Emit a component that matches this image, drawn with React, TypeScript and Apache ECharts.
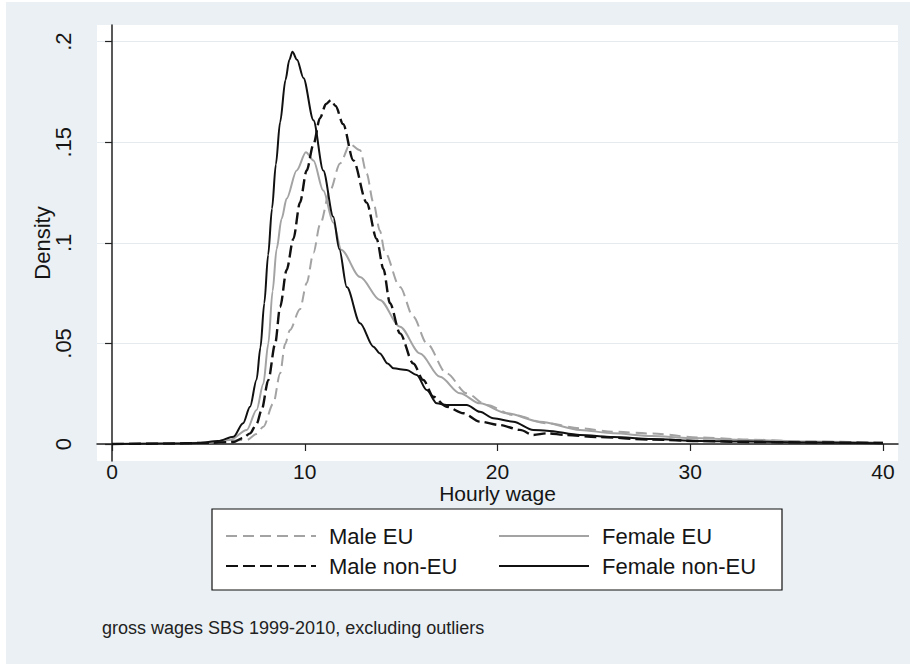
import React, { useEffect, useRef } from 'react';
import * as echarts from 'echarts';

// Kernel density estimates of hourly gross wages (wage, density)
const maleEU: number[][] = [
  [0, 0], [3, 0.0002], [5, 0.0005], [6.99, 0.002], [7.5, 0.005], [7.85, 0.0086],
  [8.37, 0.0202], [8.72, 0.0351], [8.98, 0.0497], [9.23, 0.0567], [9.75, 0.067],
  [10.1, 0.08], [10.45, 0.095], [10.79, 0.109], [11.31, 0.126], [11.83, 0.1395],
  [12.35, 0.149], [12.87, 0.146], [13.21, 0.1345], [13.56, 0.12], [13.9, 0.106],
  [14.15, 0.0955], [14.94, 0.078], [15.63, 0.0633], [16.33, 0.05], [17.36, 0.0351],
  [18.4, 0.0252], [19.44, 0.0194], [20.82, 0.0144], [22.55, 0.0103], [24.28, 0.0078],
  [26, 0.0061], [28, 0.0052], [30.5, 0.0032], [33, 0.0022], [36, 0.0013], [40, 0.0006],
];

const femaleEU: number[][] = [
  [0, 0], [3, 0.0002], [5, 0.0008], [6.12, 0.002], [6.99, 0.007], [7.5, 0.0169],
  [7.85, 0.03], [8.11, 0.05], [8.33, 0.076], [8.54, 0.097], [8.8, 0.112],
  [9.06, 0.122], [9.58, 0.136], [10.06, 0.145], [10.45, 0.141], [10.96, 0.126],
  [11.48, 0.11], [11.9, 0.0964], [12.87, 0.083], [13.9, 0.0716], [14.94, 0.0583],
  [15.98, 0.045], [17.02, 0.0334], [18.05, 0.0252], [19.09, 0.0202], [20.48, 0.0153],
  [22.2, 0.0111], [24.28, 0.007], [26, 0.0053], [28, 0.004], [30, 0.003], [33, 0.002],
  [36, 0.0012], [40, 0.0006],
];

const maleNonEU: number[][] = [
  [0, 0], [3, 0.0002], [5, 0.0006], [6.29, 0.001], [6.8, 0.003], [7.16, 0.0053],
  [7.5, 0.01], [7.76, 0.0169], [8.11, 0.0318], [8.46, 0.0497], [8.72, 0.068],
  [9.06, 0.0865], [9.41, 0.102], [9.75, 0.12], [10.1, 0.136], [10.45, 0.149],
  [10.79, 0.162], [11.1, 0.169], [11.36, 0.171], [11.6, 0.168], [11.99, 0.159],
  [12.52, 0.141], [13.21, 0.12], [13.73, 0.102], [14.08, 0.087], [14.42, 0.07],
  [14.94, 0.055], [15.63, 0.04], [16.15, 0.0318], [16.67, 0.0235], [17.36, 0.0185],
  [18.23, 0.0153], [19.09, 0.0111], [20.13, 0.0094], [21.17, 0.007], [21.86, 0.0045],
  [22.55, 0.0053], [23.59, 0.0045], [25.1, 0.0035], [28, 0.0022], [30.5, 0.0015],
  [33, 0.001], [36, 0.0008], [40, 0.0005],
];

const femaleNonEU: number[][] = [
  [0, 0], [3, 0.0002], [4.5, 0.0005], [5.5, 0.0015], [6.3, 0.0036], [6.8, 0.0103],
  [7.16, 0.0185], [7.5, 0.032], [7.7, 0.048], [7.9, 0.07], [8.1, 0.094],
  [8.3, 0.117], [8.5, 0.139], [8.72, 0.16], [9.0, 0.181], [9.2, 0.191], [9.36, 0.195],
  [9.6, 0.191], [9.93, 0.182], [10.45, 0.161], [10.96, 0.136], [11.48, 0.113],
  [11.79, 0.097], [12.18, 0.078], [12.87, 0.06], [13.56, 0.0484], [13.9, 0.045],
  [14.3, 0.04], [14.6, 0.0376], [15.29, 0.0368], [15.81, 0.0343], [16.33, 0.0268],
  [16.85, 0.0202], [17.36, 0.0194], [18.4, 0.0194], [19.09, 0.016], [19.78, 0.0128],
  [20.82, 0.0111], [21.86, 0.007], [22.55, 0.0066], [24.28, 0.0045], [26, 0.0035],
  [28, 0.0025], [30.5, 0.0015], [33, 0.0012], [36, 0.0008], [40, 0.0004],
];

const seriesNames = ['Male EU', 'Female EU', 'Male non-EU', 'Female non-EU'];
const legendColumn1 = [seriesNames[0], seriesNames[2]];
const legendColumn2 = [seriesNames[1], seriesNames[3]];
const wageTicks = [0, 10, 20, 30, 40];
const densityTicks = [0, 0.05, 0.1, 0.15, 0.2];
const xTitle = 'Hourly wage';
const yTitle = 'Density';
const note = 'gross wages SBS 1999-2010, excluding outliers';

const FONT = '"Liberation Sans", Arial, Helvetica, sans-serif';
const GRAY = '#a3a3a3';
const BLACK = '#111111';
const TXT = '#151515';

export default function App() {
  const ref = useRef<HTMLDivElement>(null);
  useEffect(() => {
    if (!ref.current) return;
    const chart = echarts.init(ref.current, null, { renderer: 'svg' });
    const fmtDensity = (v: number) => (v === 0 ? '0' : String(v).replace(/^0/, ''));
    const mk = (name: string, data: number[][], color: string, type: any, width: number) => ({
      name,
      type: 'line',
      data,
      symbol: 'none',
      smooth: 0.3,
      smoothMonotone: 'x',
      lineStyle: { color, type, width },
      itemStyle: { color },
    });
    const legendBase = {
      orient: 'vertical',
      top: 525,
      itemWidth: 90,
      itemHeight: 14,
      itemGap: 8,
      padding: 0,
      itemStyle: { color: 'rgba(0,0,0,0)', borderColor: 'rgba(0,0,0,0)', borderWidth: 0 },
      textStyle: { fontSize: 22, color: TXT, fontFamily: FONT, padding: [0, 0, 0, 8] },
    };
    chart.setOption({
      animation: false,
      backgroundColor: '#ffffff',
      textStyle: { fontFamily: FONT },
      graphic: [
        {
          type: 'rect',
          z: -10,
          silent: true,
          shape: { x: 6, y: 2, width: 910, height: 670 },
          style: { fill: '#eaf0f3' },
        },
        {
          type: 'rect',
          z: 1,
          silent: true,
          shape: { x: 212, y: 509, width: 570, height: 81 },
          style: { fill: '#ffffff', stroke: '#111', lineWidth: 1.2 },
        },
        {
          type: 'text',
          left: 102,
          top: 619,
          style: { text: note, fontSize: 18, fontFamily: FONT, fill: '#222' },
        },
      ],
      grid: {
        left: 97,
        top: 25,
        width: 801,
        height: 436,
        show: true,
        backgroundColor: '#ffffff',
        borderWidth: 0,
      },
      xAxis: {
        type: 'value',
        min: -0.78,
        max: 40.78,
        name: xTitle,
        nameLocation: 'middle',
        nameGap: 24,
        nameMoveOverlap: false,
        nameTextStyle: { fontSize: 21, lineHeight: 16, color: TXT, fontFamily: FONT },
        axisLine: { show: true, lineStyle: { color: '#222', width: 1.5 } },
        axisTick: { show: true, length: 7, customValues: wageTicks, lineStyle: { color: '#222', width: 1.2 } },
        axisLabel: { customValues: wageTicks, fontSize: 21, lineHeight: 16, color: TXT, margin: 2, fontFamily: FONT },
        splitLine: { show: false },
      },
      yAxis: {
        type: 'value',
        min: -0.00845,
        max: 0.2083,
        name: yTitle,
        nameLocation: 'middle',
        nameRotate: 90,
        nameGap: 44,
        nameMoveOverlap: false,
        nameTextStyle: { fontSize: 22, color: TXT, fontFamily: FONT },
        axisLine: { show: true, lineStyle: { color: '#222', width: 1.5 } },
        axisTick: { show: true, length: 7, customValues: densityTicks, lineStyle: { color: '#222', width: 1.2 } },
        axisLabel: {
          customValues: densityTicks,
          rotate: 90,
          fontSize: 22,
          color: TXT,
          margin: 23,
          formatter: fmtDensity,
          fontFamily: FONT,
        },
        splitLine: { show: true, lineStyle: { color: '#e4eaed', width: 1.2 } },
      },
      legend: [
        { ...legendBase, left: 225, data: legendColumn1 },
        { ...legendBase, left: 498, data: legendColumn2 },
      ],
      series: [
        mk(seriesNames[0], maleEU, GRAY, [11, 6], 2),
        mk(seriesNames[1], femaleEU, GRAY, 'solid', 2),
        mk(seriesNames[2], maleNonEU, BLACK, [12, 5], 2.4),
        mk(seriesNames[3], femaleNonEU, BLACK, 'solid', 2),
      ],
    });
    return () => chart.dispose();
  }, []);
  return <div ref={ref} style={{ position: 'fixed', left: 0, top: 0, width: 910, height: 664 }} />;
}
